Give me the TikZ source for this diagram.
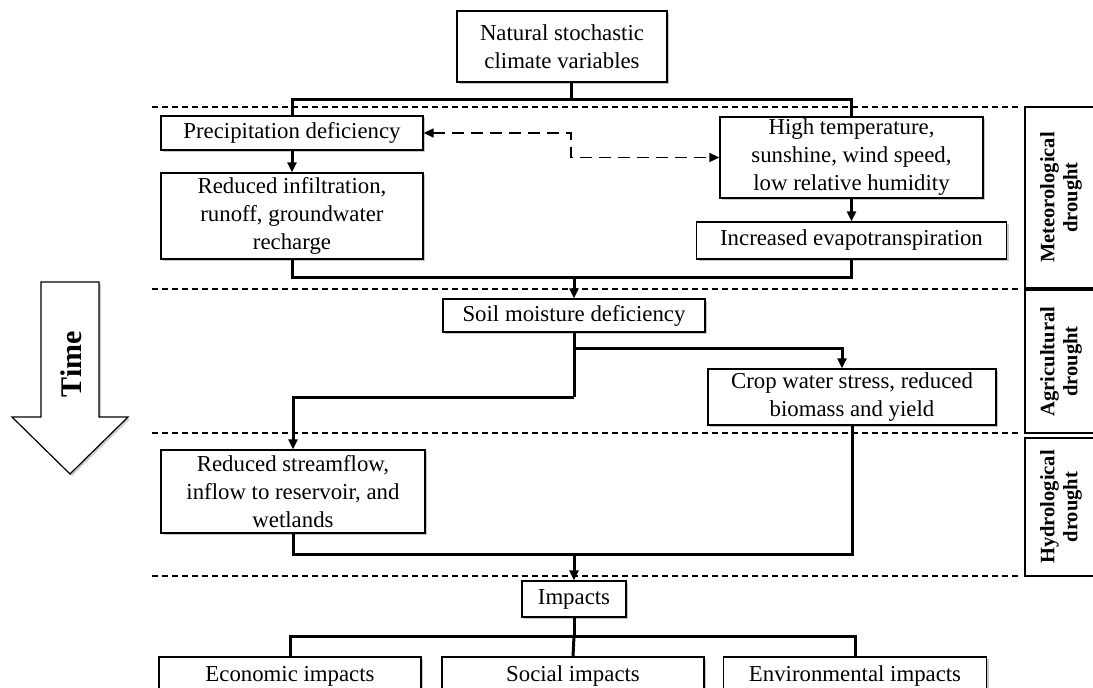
\documentclass[tikz,border=0pt]{standalone}
\usepackage{fontspec}
\setmainfont{Liberation Serif}
\usetikzlibrary{arrows.meta,shadows}
\begin{document}
\begin{tikzpicture}[x=1pt,y=-1pt,
  box/.style={draw, line width=1.3pt, fill=white, align=center, inner sep=0pt,
    font=\fontsize{22.8}{28}\selectfont,
    drop shadow={shadow xshift=2pt, shadow yshift=-2pt, fill=black, opacity=0.22}},
  conn/.style={line width=3pt},
  arr/.style={line width=3pt, -{Triangle[length=10pt,width=9pt]}},
  dasharr/.style={line width=1.5pt, dash pattern=on 12pt off 7pt,
    {Triangle[length=10pt,width=9pt]}-{Triangle[length=10pt,width=9pt]}},
  sep/.style={line width=1.5pt, dash pattern=on 6pt off 4pt},
  lab/.style={rotate=90, align=center, font=\fontsize{20.5}{23}\selectfont\bfseries},
  labbox/.style={draw, line width=1.3pt}
]
\clip (0,0) rectangle (1093,688);
\fill[white] (0,0) rectangle (1093,688);

% separators
\draw[sep] (152,107) -- (1020,107);
\draw[sep] (152,289) -- (1020,289);
\draw[sep] (152,433) -- (1020,433);
\draw[sep] (152,576) -- (1020,576);

% side label boxes
\draw[labbox] (1025,107) rectangle (1100,288);
\draw[labbox] (1025,290) rectangle (1100,433);
\draw[labbox] (1025,438) rectangle (1100,576);
\node[lab] (met) at (1061,197.5) {Meteorological\\drought};
\node[lab] (agr) at (1061,361.5) {Agricultural\\drought};
\node[lab] (hyd) at (1061,507) {Hydrological\\drought};

% time arrow
\draw[line width=1.2pt, fill=white, drop shadow={shadow xshift=2pt, shadow yshift=-2pt, fill=black, opacity=0.2}]
  (41,282) -- (99,282) -- (99,417) -- (128,417) -- (70,474) -- (12,417) -- (41,417) -- cycle;
\node[rotate=90, font=\fontsize{30}{34}\selectfont\bfseries] (time) at (71,364) {Time};

% boxes
\node[box, minimum width=210pt, minimum height=71pt] (top) at (562,46.5) {Natural stochastic\\climate variables};
\node[box, minimum width=262pt, minimum height=34pt] (precip) at (292,133) {Precipitation deficiency};
\node[box, minimum width=262pt, minimum height=86pt] (reduced) at (292,216) {Reduced infiltration,\\runoff, groundwater\\recharge};
\node[box, minimum width=263pt, minimum height=81pt] (hightemp) at (851.5,157.5) {High temperature,\\sunshine, wind speed,\\low relative humidity};
\node[box, minimum width=310pt, minimum height=37pt] (evap) at (851.5,240.5) {Increased evapotranspiration};
\node[box, minimum width=262pt, minimum height=33pt] (soil) at (574,315.5) {Soil moisture deficiency};
\node[box, minimum width=288pt, minimum height=56pt] (crop) at (852,397) {Crop water stress, reduced\\biomass and yield};
\node[box, minimum width=264pt, minimum height=83pt] (stream) at (293,491.5) {Reduced streamflow,\\inflow to reservoir, and\\wetlands};
\node[box, minimum width=104pt, minimum height=36pt] (impacts) at (574,599) {Impacts};
\node[box, minimum width=262pt, minimum height=38pt] (econ) at (290,676) {Economic impacts};
\node[box, minimum width=262pt, minimum height=38pt] (social) at (573,676) {Social impacts};
\node[box, minimum width=263pt, minimum height=38pt] (env) at (855,676) {Environmental impacts};

% junction coordinates
\coordinate (j1) at (571,99);
\coordinate (dc) at (571,145);
\coordinate (j2) at (574,277);
\coordinate (j3) at (574,397);
\coordinate (j4) at (574,348);
\coordinate (j5) at (842,348);
\coordinate (j6) at (574,554);
\coordinate (j7) at (574,636);

% connectors
\draw[conn] (top.south -| j1) -- (j1);
\draw[conn] (precip.north) |- (j1) -| (hightemp.north);
\draw[arr] (precip.south) -- (reduced.north);
\draw[arr] (hightemp.south) -- (evap.north);
\draw[dasharr] (precip.east) -- (precip.east -| dc) -- (dc |- hightemp.west) -- (hightemp.west);
\draw[conn] (reduced.south) |- (j2) -| (evap.south);
\draw[arr] (j2) -- (soil.north);
\draw[conn] (soil.south) -- (j3);
\draw[arr] (j3) -| (stream.north);
\draw[arr] (j4) -- (j5) -- (j5 |- crop.north);
\draw[conn] (stream.south) |- (j6) -| (crop.south);
\draw[arr] (j6) -- (impacts.north);
\draw[conn] (impacts.south) -- (j7);
\draw[conn] (econ.north) |- (j7) -| (env.north);
\draw[conn] (j7) -- (social.north);
\end{tikzpicture}
\end{document}
